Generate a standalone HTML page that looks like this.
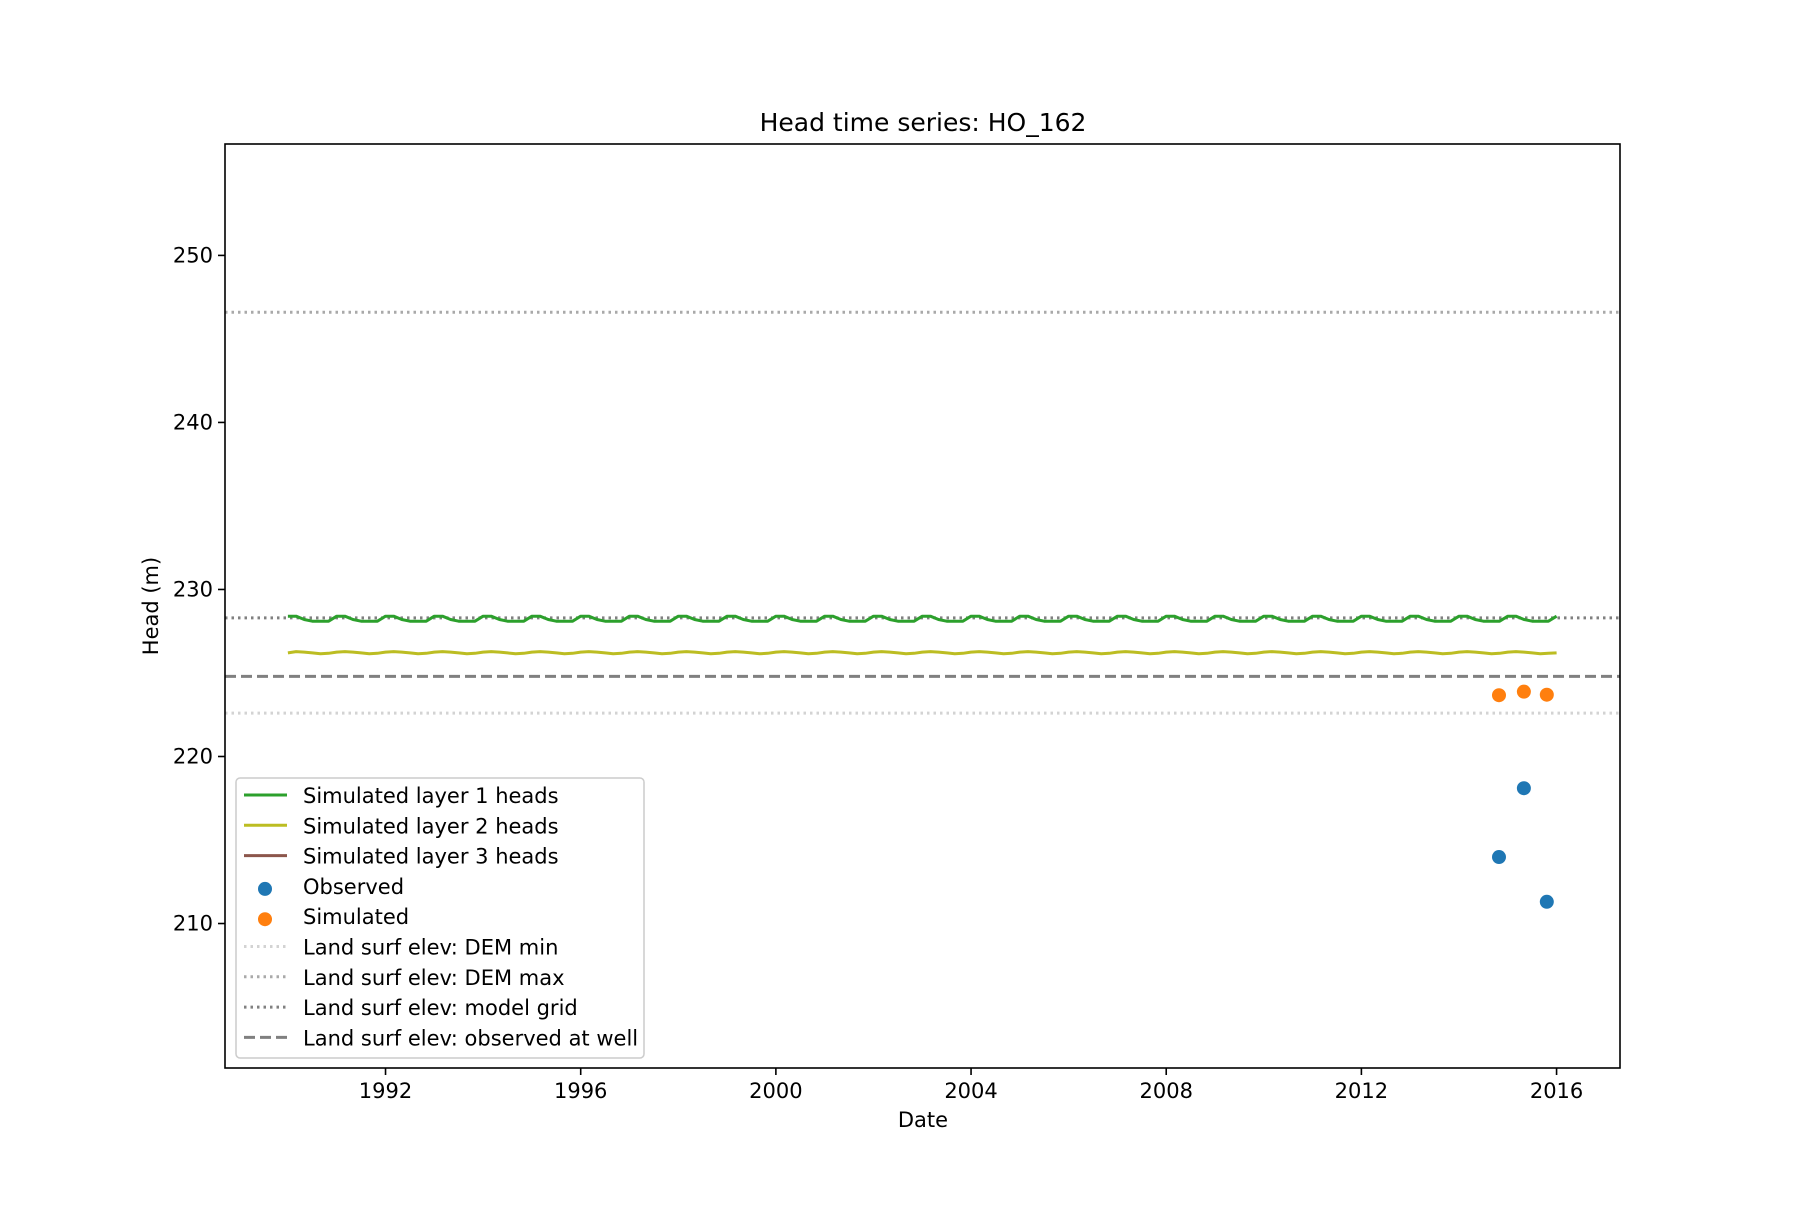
<!DOCTYPE html>
<html><head><meta charset="utf-8"><style>
body{margin:0;background:#fff;}
svg text{font-family:"DejaVu Sans","Liberation Sans",sans-serif;fill:#000;}
</style></head><body>
<svg id="chart" xmlns="http://www.w3.org/2000/svg" width="1800" height="1200" viewBox="0 0 1800 1200">
<rect width="1800" height="1200" fill="#fff"/>
<g id="plot"></g>
<text x="923" y="131" font-size="25" text-anchor="middle">Head time series: HO_162</text>
<text x="923" y="1127" font-size="21" text-anchor="middle">Date</text>
<text x="158" y="606" font-size="21" text-anchor="middle" transform="rotate(-90 158 606)">Head (m)</text>
</svg>
<script>
const xTicks=[1992,1996,2000,2004,2008,2012,2016];
const yTicks=[210,220,230,240,250];
const refNames=["DEM min","DEM max","model grid","observed at well"];
const refValues=[222.6,246.6,228.3,224.8];
const obsDates=[2014.82,2015.33,2015.8];
const obsValues=[213.98,218.1,211.3];
const simValues=[223.67,223.88,223.7];
const seriesStart=1990.0;
const layer1=[228.4,228.4,228.2,228.1,228.1,228.1,228.4,228.4,228.2,228.1,228.1,228.1,228.4,228.4,228.2,228.1,228.1,228.1,228.4,228.4,228.2,228.1,228.1,228.1,228.4,228.4,228.2,228.1,228.1,228.1,228.4,228.4,228.2,228.1,228.1,228.1,228.4,228.4,228.2,228.1,228.1,228.1,228.4,228.4,228.2,228.1,228.1,228.1,228.4,228.4,228.2,228.1,228.1,228.1,228.4,228.4,228.2,228.1,228.1,228.1,228.4,228.4,228.2,228.1,228.1,228.1,228.4,228.4,228.2,228.1,228.1,228.1,228.4,228.4,228.2,228.1,228.1,228.1,228.4,228.4,228.2,228.1,228.1,228.1,228.4,228.4,228.2,228.1,228.1,228.1,228.4,228.4,228.2,228.1,228.1,228.1,228.4,228.4,228.2,228.1,228.1,228.1,228.4,228.4,228.2,228.1,228.1,228.1,228.4,228.4,228.2,228.1,228.1,228.1,228.4,228.4,228.2,228.1,228.1,228.1,228.4,228.4,228.2,228.1,228.1,228.1,228.4,228.4,228.2,228.1,228.1,228.1,228.4,228.4,228.2,228.1,228.1,228.1,228.4,228.4,228.2,228.1,228.1,228.1,228.4,228.4,228.2,228.1,228.1,228.1,228.4,228.4,228.2,228.1,228.1,228.1,228.4];
const layer2=[226.2,226.28,226.25,226.2,226.15,226.18,226.25,226.28,226.25,226.2,226.15,226.18,226.25,226.28,226.25,226.2,226.15,226.18,226.25,226.28,226.25,226.2,226.15,226.18,226.25,226.28,226.25,226.2,226.15,226.18,226.25,226.28,226.25,226.2,226.15,226.18,226.25,226.28,226.25,226.2,226.15,226.18,226.25,226.28,226.25,226.2,226.15,226.18,226.25,226.28,226.25,226.2,226.15,226.18,226.25,226.28,226.25,226.2,226.15,226.18,226.25,226.28,226.25,226.2,226.15,226.18,226.25,226.28,226.25,226.2,226.15,226.18,226.25,226.28,226.25,226.2,226.15,226.18,226.25,226.28,226.25,226.2,226.15,226.18,226.25,226.28,226.25,226.2,226.15,226.18,226.25,226.28,226.25,226.2,226.15,226.18,226.25,226.28,226.25,226.2,226.15,226.18,226.25,226.28,226.25,226.2,226.15,226.18,226.25,226.28,226.25,226.2,226.15,226.18,226.25,226.28,226.25,226.2,226.15,226.18,226.25,226.28,226.25,226.2,226.15,226.18,226.25,226.28,226.25,226.2,226.15,226.18,226.25,226.28,226.25,226.2,226.15,226.18,226.25,226.28,226.25,226.2,226.15,226.18,226.25,226.28,226.25,226.2,226.15,226.18,226.25,226.28,226.25,226.2,226.15,226.18,226.2];

const L=225,R=1620,T=144,B=1068;
const X0=1988.71,X1=2017.3,Y0=201.35,Y1=256.67;
const sx=v=>L+(v-X0)/(X1-X0)*(R-L);
const sy=v=>B-(v-Y0)/(Y1-Y0)*(B-T);
const NS="http://www.w3.org/2000/svg";
const g=document.getElementById('plot');
function mk(t,a,p){const e=document.createElementNS(NS,t);for(const k in a)e.setAttribute(k,a[k]);(p||g).appendChild(e);return e;}

const refStyles=[{c:"#d3d3d3",d:"2.5,4"},{c:"#a9a9a9",d:"2.5,4"},{c:"#808080",d:"2.5,4"},{c:"#808080",d:"11,5"}];
refValues.forEach((v,i)=>{
 const e=mk('line',{x1:L,x2:R,y1:sy(v),y2:sy(v),stroke:refStyles[i].c,'stroke-width':3,'stroke-dasharray':refStyles[i].d});
 
 
});
function series(arr,color){
 const step=(2016-seriesStart)/(arr.length-1);
 const pts=arr.map((v,i)=>sx(seriesStart+i*step).toFixed(1)+','+sy(v).toFixed(1)).join(' ');
 return mk('polyline',{points:pts,fill:'none',stroke:color,'stroke-width':3,'stroke-linejoin':'round'});
}
const s1=series(layer1,'#2ca02c');


const s2=series(layer2,'#bcbd22');


obsDates.forEach((d,i)=>{
 const e=mk('circle',{cx:sx(d),cy:sy(obsValues[i]),r:7,fill:'#1f77b4'});
 
 
 const s=mk('circle',{cx:sx(d),cy:sy(simValues[i]),r:7,fill:'#ff7f0e'});
 
 
});
const fr=mk('rect',{x:L,y:T,width:R-L,height:B-T,fill:'none',stroke:'#000','stroke-width':1.6});


xTicks.forEach(t=>{
 const x=sx(t);
 mk('line',{x1:x,x2:x,y1:B,y2:B+7,stroke:'#000','stroke-width':1.6});
 const tx=mk('text',{x:x,y:B+30,'font-size':21,'text-anchor':'middle'});tx.textContent=t;
 
 
});
yTicks.forEach(t=>{
 const y=sy(t);
 mk('line',{x1:L-7,x2:L,y1:y,y2:y,stroke:'#000','stroke-width':1.6});
 const tx=mk('text',{x:L-12,y:y+7,'font-size':21,'text-anchor':'end'});tx.textContent=t;
 
 
});
const lg=mk('g',{});


mk('rect',{x:236,y:778,width:408,height:280,rx:4,fill:'#fff','fill-opacity':0.8,stroke:'#ccc','stroke-width':1.5},lg);
const items=[['line','#2ca02c',null,'Simulated layer 1 heads'],['line','#bcbd22',null,'Simulated layer 2 heads'],['line','#8c564b',null,'Simulated layer 3 heads'],['dot','#1f77b4',null,'Observed'],['dot','#ff7f0e',null,'Simulated'],['line','#d3d3d3','2.5,4','Land surf elev: DEM min'],['line','#a9a9a9','2.5,4','Land surf elev: DEM max'],['line','#808080','2.5,4','Land surf elev: model grid'],['line','#808080','11,5','Land surf elev: observed at well']];
items.forEach((it,i)=>{
 const y=795+i*30.3;
 if(it[0]==='line'){const a={x1:244,x2:287,y1:y,y2:y,stroke:it[1],'stroke-width':3};if(it[2])a['stroke-dasharray']=it[2];mk('line',a,lg);}
 else mk('circle',{cx:265,cy:y+3,r:7,fill:it[1]},lg);
 const tx=mk('text',{x:303,y:y+8,'font-size':21},lg);tx.textContent=it[3];
 
 
});
</script>
</body></html>
